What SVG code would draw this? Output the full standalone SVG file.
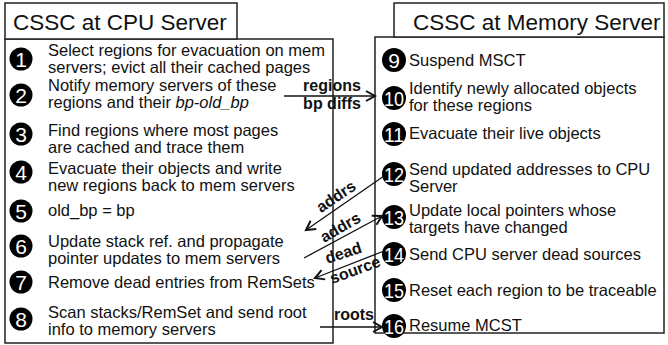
<svg xmlns="http://www.w3.org/2000/svg" width="668" height="345" viewBox="0 0 668 345">
<style>
.box{fill:#fff;stroke:#222;stroke-width:1.5}
.title{font-family:"Liberation Sans",Arial,sans-serif;font-size:22.5px;fill:#111}
.t{font-family:"Liberation Sans",Arial,sans-serif;font-size:16.5px;fill:#111}
.num{font-family:"Liberation Sans",Arial,sans-serif;font-size:21px;fill:#fff;text-anchor:middle}
.lbl{font-family:"Liberation Sans",Arial,sans-serif;font-size:16px;font-weight:bold;fill:#111;text-anchor:middle}
.dot{fill:#000}
.con{stroke:#111;stroke-width:1.3;fill:none}
</style>
<defs>
<marker id="arr" markerUnits="userSpaceOnUse" markerWidth="14" markerHeight="14" refX="10" refY="6" orient="auto" viewBox="0 0 14 12">
<path d="M1,1 L10,6 L1,11" fill="none" stroke="#111" stroke-width="2"/>
</marker>
</defs>

<g id="cpu-server">
<rect class="box" x="5" y="39" width="328" height="304"/>
<rect class="box" x="5" y="3" width="232" height="36"/>
<text class="title" x="13" y="30">CSSC at CPU Server</text>
</g>
<g id="step1"><circle class="dot" cx="21" cy="59" r="11.5"/><text class="num" x="21" y="66.5">1</text>
<text class="t" x="48" y="56">Select regions for evacuation on mem</text><text class="t" x="48" y="73">servers; evict all their cached pages</text></g>
<g id="step2"><circle class="dot" cx="21" cy="95" r="11.5"/><text class="num" x="21" y="102.5">2</text>
<text class="t" x="48" y="91">Notify memory servers of these</text><text class="t" x="48" y="108">regions and their <tspan font-style="italic">bp-old_bp</tspan></text></g>
<g id="step3"><circle class="dot" cx="21" cy="134" r="11.5"/><text class="num" x="21" y="141.5">3</text>
<text class="t" x="48" y="136">Find regions where most pages</text><text class="t" x="48" y="153">are cached and trace them</text></g>
<g id="step4"><circle class="dot" cx="21" cy="172" r="11.5"/><text class="num" x="21" y="179.5">4</text>
<text class="t" x="48" y="174">Evacuate their objects and write</text><text class="t" x="48" y="191">new regions back to mem servers</text></g>
<g id="step5"><circle class="dot" cx="21" cy="211" r="11.5"/><text class="num" x="21" y="218.5">5</text>
<text class="t" x="48" y="216">old_bp = bp</text></g>
<g id="step6"><circle class="dot" cx="21" cy="246" r="11.5"/><text class="num" x="21" y="253.5">6</text>
<text class="t" x="48" y="247">Update stack ref. and propagate</text><text class="t" x="48" y="264">pointer updates to mem servers</text></g>
<g id="step7"><circle class="dot" cx="21" cy="282" r="11.5"/><text class="num" x="21" y="289.5">7</text>
<text class="t" x="48" y="288">Remove dead entries from RemSets</text></g>
<g id="step8"><circle class="dot" cx="21" cy="319" r="11.5"/><text class="num" x="21" y="326.5">8</text>
<text class="t" x="48" y="318">Scan stacks/RemSet and send root</text><text class="t" x="48" y="335">info to memory servers</text></g>

<g id="memory-server">
<rect class="box" x="375" y="37" width="289" height="296"/>
<rect class="box" x="394" y="3" width="270" height="34"/>
<text class="title" x="413" y="30">CSSC at Memory Server</text>
</g>
<g id="step9"><circle class="dot" cx="394" cy="60" r="12"/><text class="num" x="394" y="67.5">9</text>
<text class="t" x="409" y="66">Suspend MSCT</text></g>
<g id="step10"><circle class="dot" cx="394" cy="98" r="12"/><text class="num" x="394" y="105.5" textLength="20" lengthAdjust="spacingAndGlyphs">10</text>
<text class="t" x="409" y="94">Identify newly allocated objects</text><text class="t" x="409" y="111">for these regions</text></g>
<g id="step11"><circle class="dot" cx="394" cy="134" r="12"/><text class="num" x="394" y="141.5" textLength="20" lengthAdjust="spacingAndGlyphs">11</text>
<text class="t" x="409" y="139">Evacuate their live objects</text></g>
<g id="step12"><circle class="dot" cx="394" cy="174" r="12"/><text class="num" x="394" y="181.5" textLength="20" lengthAdjust="spacingAndGlyphs">12</text>
<text class="t" x="409" y="175">Send updated addresses to CPU</text><text class="t" x="409" y="192">Server</text></g>
<g id="step13"><circle class="dot" cx="394" cy="217" r="12"/><text class="num" x="394" y="224.5" textLength="20" lengthAdjust="spacingAndGlyphs">13</text>
<text class="t" x="409" y="216">Update local pointers whose</text><text class="t" x="409" y="233">targets have changed</text></g>
<g id="step14"><circle class="dot" cx="394" cy="254" r="12"/><text class="num" x="394" y="261.5" textLength="20" lengthAdjust="spacingAndGlyphs">14</text>
<text class="t" x="409" y="260">Send CPU server dead sources</text></g>
<g id="step15"><circle class="dot" cx="394" cy="290" r="12"/><text class="num" x="394" y="297.5" textLength="20" lengthAdjust="spacingAndGlyphs">15</text>
<text class="t" x="409" y="296">Reset each region to be traceable</text></g>
<g id="step16"><circle class="dot" cx="394" cy="326" r="12"/><text class="num" x="394" y="333.5" textLength="20" lengthAdjust="spacingAndGlyphs">16</text>
<text class="t" x="409" y="331">Resume MCST</text></g>

<g id="connectors">
<line class="con" x1="284" y1="96" x2="375" y2="96" marker-end="url(#arr)"/>
<text class="lbl" x="332" y="91">regions</text>
<text class="lbl" x="332" y="109">bp diffs</text>

<line class="con" x1="384" y1="176" x2="306" y2="230" marker-end="url(#arr)"/>
<text class="lbl" transform="translate(339,201) rotate(-34)">addrs</text>

<line class="con" x1="304" y1="258" x2="382" y2="216" marker-end="url(#arr)"/>
<text class="lbl" transform="translate(343,232) rotate(-30)">addrs</text>

<line class="con" x1="384" y1="251" x2="315" y2="278" marker-end="url(#arr)"/>
<text class="lbl" transform="translate(345,258) rotate(-18)">dead</text>
<text class="lbl" transform="translate(357,275) rotate(-20)">source</text>

<line class="con" x1="320" y1="327" x2="382" y2="327" marker-end="url(#arr)"/>
<text class="lbl" x="354" y="320">roots</text>
</g>
</svg>
